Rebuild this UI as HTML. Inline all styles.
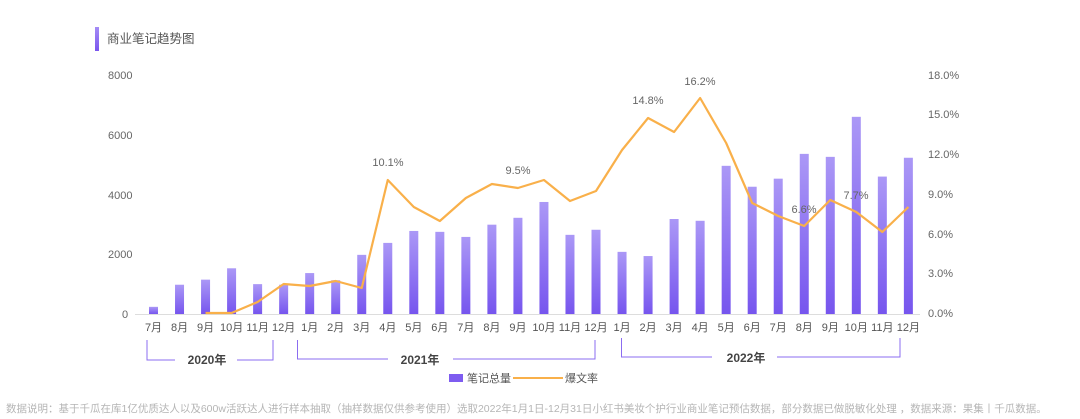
<!DOCTYPE html>
<html><head><meta charset="utf-8"><style>
html,body{margin:0;padding:0;background:#fff;}
svg{display:block;font-family:"Liberation Sans","Noto Sans CJK SC",sans-serif;}
</style></head><body>
<svg width="1080" height="419" viewBox="0 0 1080 419" xmlns="http://www.w3.org/2000/svg">
<defs>
<linearGradient id="g" x1="0" y1="0" x2="0" y2="1">
<stop offset="0" stop-color="#ab98f6"/><stop offset="1" stop-color="#7655ee"/>
</linearGradient>
<linearGradient id="t" x1="0" y1="0" x2="0" y2="1">
<stop offset="0" stop-color="#a58cf6"/><stop offset="1" stop-color="#7a55ee"/>
</linearGradient>
</defs>
<rect x="95" y="27" width="4" height="24" fill="url(#t)"/>
<text x="107" y="43" font-size="12.5" fill="#555">商业笔记趋势图</text>
<g font-size="11" fill="#666">
<text x="108" y="79">8000</text>
<text x="108" y="139">6000</text>
<text x="108" y="199">4000</text>
<text x="108" y="258">2000</text>
<text x="122" y="318">0</text>
</g>
<g font-size="11" fill="#666">
<text x="928" y="79">18.0%</text>
<text x="928" y="118">15.0%</text>
<text x="928" y="158">12.0%</text>
<text x="928" y="198">9.0%</text>
<text x="928" y="238">6.0%</text>
<text x="928" y="277">3.0%</text>
<text x="928" y="317">0.0%</text>
</g>
<line x1="135" y1="314.5" x2="920" y2="314.5" stroke="#ddd" stroke-width="1"/>
<g fill="url(#g)" id="bars"></g>
<polyline id="ln" fill="none" stroke="#f9b04a" stroke-width="2.2" stroke-linejoin="round"/>
<g font-size="11" fill="#666" text-anchor="middle">
<text x="388" y="166">10.1%</text>
<text x="518" y="174">9.5%</text>
<text x="648" y="104">14.8%</text>
<text x="700" y="85">16.2%</text>
<text x="804" y="213">6.6%</text>
<text x="856" y="199">7.7%</text>
</g>
<g id="xl" font-size="11" fill="#555" text-anchor="middle"></g>
<g stroke="#8b6cf0" stroke-width="1" fill="none">
<polyline points="147,340 147,360 175,360"/>
<polyline points="237,360 273,360 273,340"/>
<polyline points="297.5,340 297.5,359 388,359"/>
<polyline points="453,359 595,359 595,340"/>
<polyline points="621.5,338 621.5,357 712,357"/>
<polyline points="777,357 900,357 900,338"/>
</g>
<g font-size="12" font-weight="bold" fill="#444" text-anchor="middle">
<text x="207" y="364">2020年</text>
<text x="420" y="364">2021年</text>
<text x="746" y="362">2022年</text>
</g>
<rect x="449" y="374" width="14" height="8" fill="#7e5cf0"/>
<text x="467" y="382" font-size="11" fill="#555">笔记总量</text>
<line x1="513" y1="378" x2="563" y2="378" stroke="#f9b04a" stroke-width="2"/>
<text x="565" y="382" font-size="11" fill="#555">爆文率</text>
<text x="6" y="412" font-size="10.5" fill="#b5b5b5">数据说明：基于千瓜在库1亿优质达人以及600w活跃达人进行样本抽取（抽样数据仅供参考使用）选取2022年1月1日-12月31日小红书美妆个护行业商业笔记预估数据，部分数据已做脱敏化处理 ，数据来源：果集丨千瓜数据。</text>
</svg>
<script>
var vals=[240,980,1150,1530,1000,980,1370,1130,1980,2380,2780,2750,2580,2990,3220,3750,2650,2820,2080,1940,3180,3120,4960,4260,4530,5360,5260,6600,4600,5230];
var ly=[null,null,313,313,302,284,286,281,288,180,207,221,198,184,188,180,201,191,150,118,132,98,143,203,216,226,200,212,232,207];
var labs=["7月","8月","9月","10月","11月","12月","1月","2月","3月","4月","5月","6月","7月","8月","9月","10月","11月","12月","1月","2月","3月","4月","5月","6月","7月","8月","9月","10月","11月","12月"];
var NS="http://www.w3.org/2000/svg",b=document.getElementById("bars"),xl=document.getElementById("xl"),pts=[];
for(var i=0;i<30;i++){var x=153.5+i*26.03,h=vals[i]*239/8000;
var r=document.createElementNS(NS,"rect");r.setAttribute("x",x-4.5);r.setAttribute("y",314-h);r.setAttribute("width",9);r.setAttribute("height",h);b.appendChild(r);
var t=document.createElementNS(NS,"text");t.setAttribute("x",x);t.setAttribute("y",331);t.textContent=labs[i];xl.appendChild(t);
if(ly[i]!==null)pts.push(x+","+ly[i]);}
document.getElementById("ln").setAttribute("points",pts.join(" "));
</script>
</body></html>
